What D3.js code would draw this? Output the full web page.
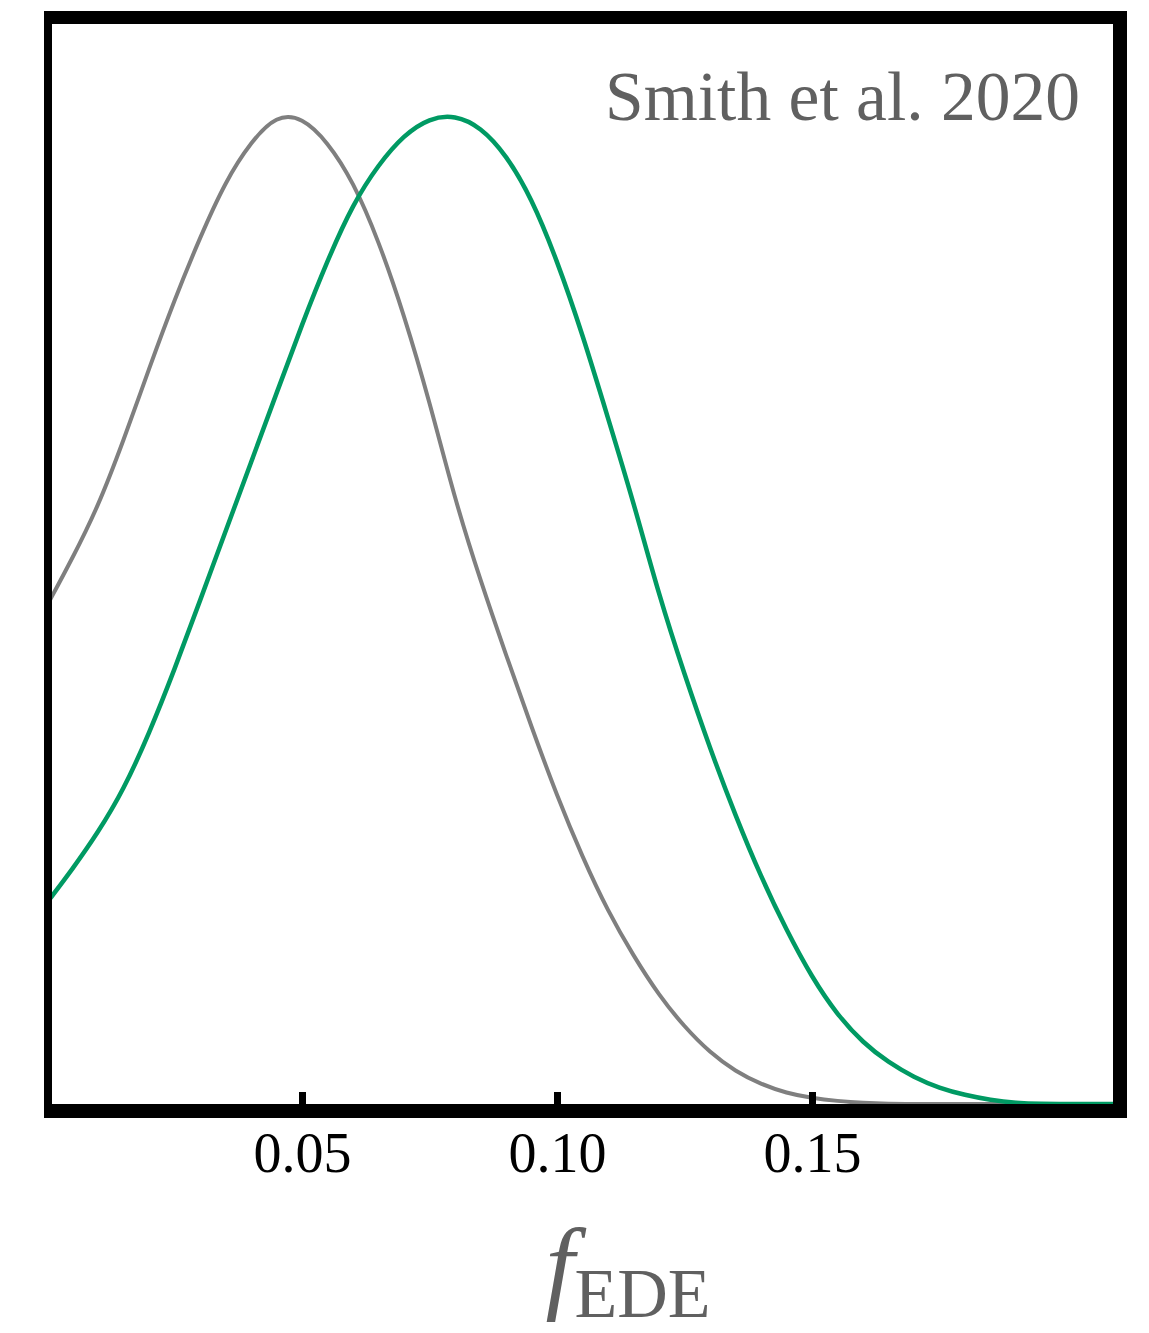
<!DOCTYPE html>
<html>
<head>
<meta charset="utf-8">
<script src="https://cdn.jsdelivr.net/npm/d3@7/dist/d3.min.js"></script>
<style>
  html, body { margin: 0; padding: 0; background: #ffffff; }
  svg { display: block; }
</style>
</head>
<body>
<svg id="chart" width="1149" height="1333"></svg>
<script>
// ---- data ----
const tickValues = [0.05, 0.10, 0.15];
const tickLabels = ["0.05", "0.10", "0.15"];

const fGrid = [0.000, 0.005, 0.010, 0.015, 0.020, 0.025, 0.030, 0.035, 0.040, 0.045, 0.050,
               0.055, 0.060, 0.065, 0.070, 0.075, 0.080, 0.085, 0.090, 0.095, 0.100,
               0.105, 0.110, 0.115, 0.120, 0.125, 0.130, 0.135, 0.140, 0.145, 0.150,
               0.155, 0.160, 0.165, 0.170, 0.175, 0.180, 0.185, 0.190, 0.195, 0.200,
               0.205, 0.210, 0.215];

const grayD = [0.505, 0.553, 0.605, 0.672, 0.745, 0.815, 0.878, 0.935, 0.975, 1.002, 1.000,
               0.975, 0.935, 0.875, 0.800, 0.712, 0.612, 0.530, 0.455, 0.382, 0.312,
               0.250, 0.195, 0.150, 0.110, 0.078, 0.052, 0.033, 0.020, 0.011, 0.006,
               0.003, 0.001, 0.000, 0.000, 0.000, 0.000, 0.000, 0.000, 0.000, 0.000,
               0.000, 0.000, 0.000];

const greenD = [0.204, 0.238, 0.275, 0.318, 0.375, 0.440, 0.510, 0.580, 0.650, 0.720, 0.790,
                0.855, 0.912, 0.952, 0.982, 0.999, 1.002, 0.990, 0.962, 0.918, 0.855,
                0.780, 0.695, 0.610, 0.515, 0.435, 0.360, 0.292, 0.230, 0.176, 0.128,
                0.090, 0.062, 0.042, 0.027, 0.016, 0.009, 0.004, 0.001, 0.000, 0.000,
                0.000, 0.000, 0.000];

const annotation = "Smith et al. 2020";

// ---- layout ----
const svg = d3.select("#chart");
const outer = {x0: 44, y0: 11, x1: 1127, y1: 1118};
const inner = {x0: 52, y0: 24, x1: 1113, y1: 1104};

const x = d3.scaleLinear().domain([0, 0.2]).range([47, 1067]);
const y = d3.scaleLinear().domain([0, 1]).range([inner.y1, 117]);

// frame
svg.append("rect").attr("x", outer.x0).attr("y", outer.y0)
  .attr("width", outer.x1 - outer.x0).attr("height", outer.y1 - outer.y0)
  .attr("fill", "#000");
svg.append("rect").attr("x", inner.x0).attr("y", inner.y0)
  .attr("width", inner.x1 - inner.x0).attr("height", inner.y1 - inner.y0)
  .attr("fill", "#fff");

svg.append("clipPath").attr("id", "clip").append("rect")
  .attr("x", inner.x0).attr("y", inner.y0)
  .attr("width", inner.x1 - inner.x0).attr("height", inner.y1 - inner.y0);

const plot = svg.append("g").attr("clip-path", "url(#clip)");

const line = d3.line().x(d => x(d[0])).y(d => y(d[1])).curve(d3.curveBasis);

plot.append("path").datum(d3.zip(fGrid, grayD))
  .attr("d", line).attr("fill", "none")
  .attr("stroke", "#7f7f7f").attr("stroke-width", 4)
  .attr("stroke-linejoin", "round");

plot.append("path").datum(d3.zip(fGrid, greenD))
  .attr("d", line).attr("fill", "none")
  .attr("stroke", "#009a63").attr("stroke-width", 4.5)
  .attr("stroke-linejoin", "round");

// x axis (ticks inward, labels below frame)
const axis = d3.axisBottom(x).tickValues(tickValues)
  .tickFormat((d, i) => tickLabels[i]).tickSize(-12).tickSizeOuter(0);
const ax = svg.append("g").attr("transform", `translate(0,${inner.y1})`).call(axis);
ax.select(".domain").remove();
ax.selectAll(".tick line").attr("stroke", "#000").attr("stroke-width", 7);
ax.selectAll(".tick text")
  .attr("y", 68).attr("dy", 0)
  .attr("fill", "#000")
  .attr("font-family", "'Liberation Serif', 'Times New Roman', serif")
  .attr("font-size", 56);

// annotation
svg.append("text")
  .attr("x", 1080).attr("y", 120)
  .attr("text-anchor", "end")
  .attr("font-family", "'Liberation Serif', 'Times New Roman', serif")
  .attr("font-size", 69.5)
  .attr("fill", "#606060")
  .text(annotation);

// axis title f_EDE
const title = svg.append("text")
  .attr("x", 628).attr("y", 1300)
  .attr("text-anchor", "middle")
  .attr("font-family", "'Liberation Serif', 'Times New Roman', serif")
  .attr("fill", "#606060");
title.append("tspan").attr("font-style", "italic").attr("font-size", 104).text("f");
title.append("tspan").attr("font-size", 70).attr("dy", 17).text("EDE");
</script>
</body>
</html>
